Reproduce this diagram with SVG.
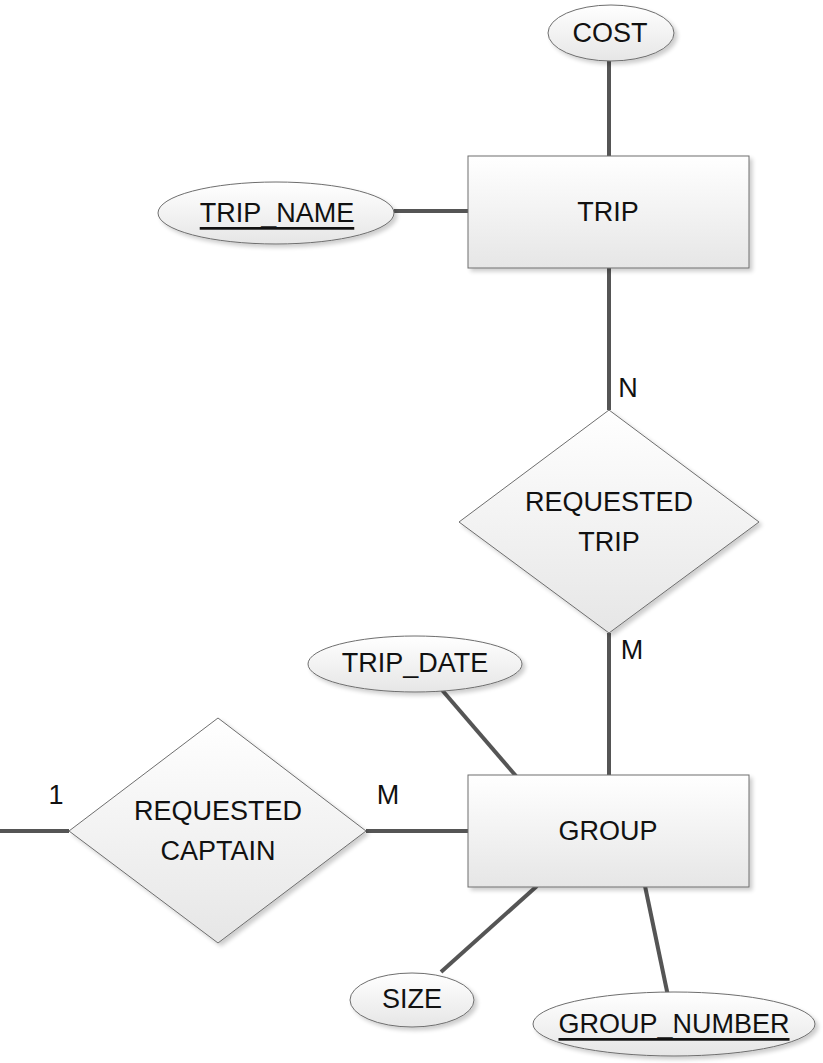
<svg xmlns="http://www.w3.org/2000/svg" width="823" height="1063" viewBox="0 0 823 1063">
<style>
.shape{fill:url(#g);stroke:#6e6e6e;stroke-width:1;filter:url(#sh)}
.conn{stroke:#555;stroke-width:4;fill:none}
.t{font-family:"Liberation Sans",Arial,sans-serif;font-size:27px;fill:#111;text-anchor:middle;dominant-baseline:central}
.u{text-decoration:underline}
</style>
<defs>
<linearGradient id="g" x1="0" y1="0" x2="0" y2="1">
<stop offset="0" stop-color="#ffffff"/>
<stop offset="1" stop-color="#e6e6e6"/>
</linearGradient>
<filter id="sh" x="-10%" y="-10%" width="125%" height="130%">
<feGaussianBlur in="SourceAlpha" stdDeviation="2"/>
<feOffset dx="3" dy="3" result="b"/>
<feComponentTransfer><feFuncA type="linear" slope="0.2"/></feComponentTransfer>
<feMerge><feMergeNode/><feMergeNode in="SourceGraphic"/></feMerge>
</filter>
</defs>
<g id="connectors">
<line class="conn" x1="609" y1="61" x2="609" y2="157"/>
<line class="conn" x1="394" y1="211" x2="469" y2="211"/>
<line class="conn" x1="609" y1="268" x2="609" y2="410"/>
<line class="conn" x1="609" y1="633" x2="609" y2="776"/>
<line class="conn" x1="442" y1="690" x2="516" y2="776"/>
<line class="conn" x1="0" y1="831" x2="69" y2="831"/>
<line class="conn" x1="366" y1="831" x2="469" y2="831"/>
<line class="conn" x1="441" y1="972" x2="537" y2="886"/>
<line class="conn" x1="645" y1="886" x2="668" y2="996"/>
<text class="t" x="628" y="388">N</text>
<text class="t" x="632" y="650">M</text>
<text class="t" x="56" y="795">1</text>
<text class="t" x="388" y="795">M</text>
</g>
<g id="cost">
<ellipse class="shape" cx="611" cy="33" rx="63" ry="28"/>
<text class="t" x="610" y="33">COST</text>
</g>
<g id="trip_name">
<ellipse class="shape" cx="276" cy="213" rx="118" ry="31"/>
<text class="t u" x="277" y="213">TRIP_NAME</text>
</g>
<g id="trip">
<rect class="shape" x="468" y="156" width="281" height="112"/>
<text class="t" x="608" y="212">TRIP</text>
</g>
<g id="requested_trip">
<polygon class="shape" points="609,410 759,522 609,633 459,522"/>
<text class="t" x="609" y="502">REQUESTED</text>
<text class="t" x="609" y="542">TRIP</text>
</g>
<g id="trip_date">
<ellipse class="shape" cx="415" cy="664" rx="107" ry="28"/>
<text class="t" x="415" y="663">TRIP_DATE</text>
</g>
<g id="group">
<rect class="shape" x="468" y="775" width="281" height="112"/>
<text class="t" x="608" y="831">GROUP</text>
</g>
<g id="requested_captain">
<polygon class="shape" points="218,718 366,831 218,943 69,831"/>
<text class="t" x="218" y="811">REQUESTED</text>
<text class="t" x="218" y="851">CAPTAIN</text>
</g>
<g id="size">
<ellipse class="shape" cx="412" cy="1000" rx="62" ry="27"/>
<text class="t" x="412" y="999">SIZE</text>
</g>
<g id="group_number">
<ellipse class="shape" cx="674" cy="1024" rx="141" ry="32"/>
<text class="t u" x="674" y="1024">GROUP_NUMBER</text>
</g>
</svg>
